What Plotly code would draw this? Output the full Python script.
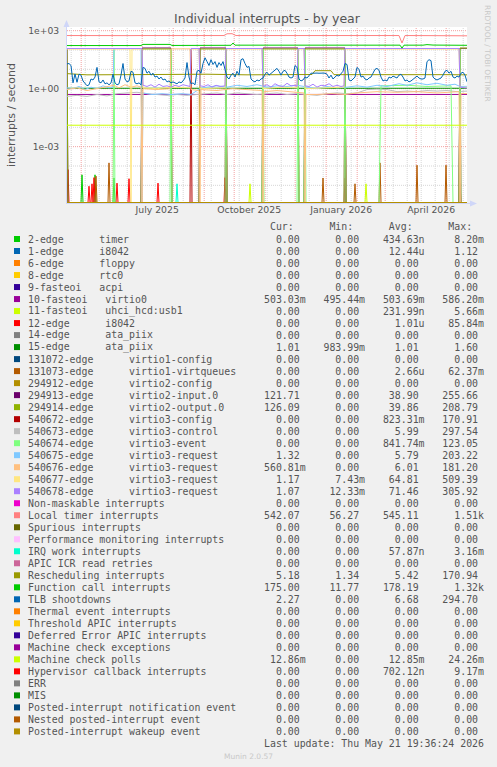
import plotly.graph_objects as go
from datetime import datetime, timedelta

# ---------------- geometry / scale ----------------
W, H = 497, 767
PL, PR, PT, PB = 67, 467, 27, 203
YTOP, YBOT = 3.19, -5.914
END = datetime(2026, 5, 21, 19, 36, 24)
START = END - timedelta(days=400)

# ---------------- legend table data ----------------
labels = [
    "2-edge      timer", "1-edge      i8042", "6-edge      floppy", "8-edge      rtc0",
    "9-fasteoi   acpi", "10-fasteoi   virtio0", "11-fasteoi   uhci_hcd:usb1",
    "12-edge      i8042", "14-edge      ata_piix", "15-edge      ata_piix",
    "131072-edge      virtio1-config", "131073-edge      virtio1-virtqueues",
    "294912-edge      virtio2-config", "294913-edge      virtio2-input.0",
    "294914-edge      virtio2-output.0", "540672-edge      virtio3-config",
    "540673-edge      virtio3-control", "540674-edge      virtio3-event",
    "540675-edge      virtio3-request", "540676-edge      virtio3-request",
    "540677-edge      virtio3-request", "540678-edge      virtio3-request",
    "Non-maskable interrupts", "Local timer interrupts", "Spurious interrupts",
    "Performance monitoring interrupts", "IRQ work interrupts", "APIC ICR read retries",
    "Rescheduling interrupts", "Function call interrupts", "TLB shootdowns",
    "Thermal event interrupts", "Threshold APIC interrupts", "Deferred Error APIC interrupts",
    "Machine check exceptions", "Machine check polls", "Hypervisor callback interrupts",
    "ERR", "MIS", "Posted-interrupt notification event", "Nested posted-interrupt event",
    "Posted-interrupt wakeup event",
]
colors = [
    "#00CC00", "#0066B3", "#FF8000", "#FFCC00", "#330099", "#990099", "#CCFF00", "#FF0000",
    "#808080", "#008F00", "#00487D", "#B35A00", "#B38F00", "#6B006B", "#8FB300", "#B30000",
    "#BEBEBE", "#80FF80", "#80C9FF", "#FFC080", "#FFE680", "#AA80FF", "#EE00CC", "#FF8080",
    "#666600", "#FFBFFF", "#00FFCC", "#CC6699", "#999900", "#00CC00", "#0066B3", "#FF8000",
    "#FFCC00", "#330099", "#990099", "#CCFF00", "#FF0000", "#808080", "#008F00", "#00487D",
    "#B35A00", "#B38F00",
]
cur = ["0.00", "0.00", "0.00", "0.00", "0.00", "503.03m", "0.00", "0.00", "0.00", "1.01",
       "0.00", "0.00", "0.00", "121.71", "126.09", "0.00", "0.00", "0.00", "1.32", "560.81m",
       "1.17", "1.07", "0.00", "542.07", "0.00", "0.00", "0.00", "0.00", "5.18", "175.00",
       "2.27", "0.00", "0.00", "0.00", "0.00", "12.86m", "0.00", "0.00", "0.00", "0.00",
       "0.00", "0.00"]
mins = ["0.00", "0.00", "0.00", "0.00", "0.00", "495.44m", "0.00", "0.00", "0.00", "983.99m",
        "0.00", "0.00", "0.00", "0.00", "0.00", "0.00", "0.00", "0.00", "0.00", "0.00",
        "7.43m", "12.33m", "0.00", "56.27", "0.00", "0.00", "0.00", "0.00", "1.34", "11.77",
        "0.00", "0.00", "0.00", "0.00", "0.00", "0.00", "0.00", "0.00", "0.00", "0.00",
        "0.00", "0.00"]
avgs = ["434.63n", "12.44u", "0.00", "0.00", "0.00", "503.69m", "231.99n", "1.01u", "0.00", "1.01",
        "0.00", "2.66u", "0.00", "38.90", "39.86", "823.31m", "5.99", "841.74m", "5.79", "6.01",
        "64.81", "71.46", "0.00", "545.11", "0.00", "0.00", "57.87n", "0.00", "5.42", "178.19",
        "6.68", "0.00", "0.00", "0.00", "0.00", "12.85m", "702.12n", "0.00", "0.00", "0.00",
        "0.00", "0.00"]
maxs = ["8.20m", "1.12", "0.00", "0.00", "0.00", "586.20m", "5.66m", "85.84m", "0.00", "1.60",
        "0.00", "62.37m", "0.00", "255.66", "208.79", "170.91", "297.54", "123.05", "203.22", "181.20",
        "509.39", "305.92", "0.00", "1.51k", "0.00", "0.00", "3.16m", "0.00", "170.94", "1.32k",
        "294.70", "0.00", "0.00", "0.00", "0.00", "24.26m", "9.17m", "0.00", "0.00", "0.00",
        "0.00", "0.00"]

# ---------------- series data (day offset from graph start, value) ----------------
# Local timer interrupts
loc_days = [0, 14, 17, 60, 75, 100, 157, 160, 165, 169, 200, 250, 300, 332, 335, 338, 360, 400]
loc_vals = [560, 570, 550, 555, 560, 555, 560, 690, 700, 560, 555, 560, 555, 560, 230, 560, 555, 542]
# Function call interrupts
fc_days = [0, 74, 76, 103, 105, 150, 164, 166, 168, 200, 250, 300, 333, 335, 337, 356, 360, 366, 400]
fc_vals = [170, 170, 195, 195, 172, 175, 175, 230, 178, 178, 180, 178, 178, 125, 178, 178, 190, 180, 175]
# TLB shootdowns (read every 2 days)
tlb_vals = [
    19.1, 20.0, 15.8, 2.0, 5.75, 2.14, 5.62, 5.01, 2.51, 1.78,
    1.41, 1.58, 3.16, 2.82, 3.98, 12.6, 2.24, 2.0, 2.82, 1.78,
    2.0, 1.58, 2.0, 5.62, 2.0, 1.58, 1.78, 5.01, 20.0, 3.16,
    2.24, 2.51, 7.94, 7.08, 2.0, 1.78, 2.0, 1.58, 12.6, 11.2,
    6.31, 7.94, 5.01, 6.31, 3.98, 4.47, 3.16, 3.98, 2.82, 3.16,
    2.24, 2.51, 2.0, 2.24, 2.0, 1.78, 2.24, 2.0, 2.51, 3.55,
    22.4, 3.98, 1.78, 2.0, 1.58, 7.94, 8.91, 6.31, 20.0, 39.8,
    25.1, 15.8, 31.6, 17.8, 25.1, 12.6, 22.4, 15.8, 25.1, 10.0,
    3.98, 3.16, 5.01, 6.31, 3.98, 7.94, 5.01, 31.6, 35.5, 20.0,
    12.6, 14.1, 3.16, 2.51, 2.24, 2.82, 2.51, 3.16, 3.55, 5.62,
    7.08, 5.01, 6.31, 7.94, 10.0, 11.2, 7.94, 5.01, 7.94, 8.91,
    6.31, 3.98, 3.55, 3.98, 15.8, 12.6, 3.16, 2.51, 2.82, 3.98,
    3.55, 5.01, 6.31, 6.31, 6.5, 6.4, 6.3, 6.5, 6.4, 6.3,
    5.62, 3.55, 5.01, 3.16, 3.98, 5.01, 4.47, 5.62, 7.94, 20.0,
    17.8, 2.82, 2.51, 3.16, 3.98, 12.6, 10.0, 3.98, 4.47, 3.16,
    2.82, 3.55, 3.98, 6.31, 10.0, 11.2, 8.91, 3.98, 2.51, 2.82,
    2.51, 3.98, 3.55, 4.47, 3.98, 3.55, 5.01, 5.62, 3.98, 2.51,
    2.82, 2.24, 2.51, 3.16, 3.98, 4.47, 3.55, 3.16, 3.16, 3.55,
    25.1, 31.6, 28.2, 3.98, 3.16, 2.82, 3.16, 3.55, 5.01, 7.94,
    8.91, 6.31, 7.94, 3.98, 3.55, 4.47, 3.98, 6.31, 7.08, 5.01,
    2.27]
# Rescheduling interrupts
res_days = [0, 20, 60, 100, 140, 180, 220, 245, 248, 264, 267, 300, 340, 380, 400]
res_vals = [6.0, 5.2, 5.3, 5.4, 5.6, 5.2, 5.3, 5.4, 8.5, 8.5, 5.3, 5.4, 5.5, 5.3, 5.18]
# 10-fasteoi virtio0, 15-edge ata_piix, Machine check polls
v0_days, v0_vals = [0, 400], [0.503, 0.503]
ata_days, ata_vals = [0, 400], [1.05, 1.05]
mcp_days, mcp_vals = [0, 400], [0.01285, 0.01285]
# 294913 / 294914 (virtio2 queues)
in0_days = [0, 1, 74, 75, 104, 105, 132, 133, 159, 160, 195, 196, 231, 232, 237, 238, 278, 279, 392, 393, 400]
in0_vals = [127, 0, 0, 127, 127, 0, 0, 127, 127, 0, 0, 127, 127, 0, 0, 127, 127, 0, 0, 122, 122]
out0_vals = [113, 0, 0, 113, 113, 0, 0, 113, 113, 0, 0, 113, 113, 0, 0, 113, 113, 0, 0, 126, 126]
# 540672 virtio3-config
cfg_days = [0, 123, 124, 125, 158, 159, 160, 277, 278, 279, 392, 393, 394, 400]
cfg_vals = [0, 0, 110, 0, 0, 110, 0, 0, 110, 0, 0, 110, 0, 0]
# 540673 virtio3-control
ctl_days = [0, 10, 20, 30, 40, 50, 60, 70, 80, 90, 100, 110, 120, 130, 140, 150, 160, 170, 180,
            190, 200, 210, 220, 230, 240, 250, 260, 270, 280, 290, 300, 310, 320, 330, 340, 350,
            360, 370, 380, 390, 400]
ctl_vals = [0.4, 0.45, 0.4, 0.5, 0.42, 0.55, 0.6, 0.65, 0.55, 0.5, 0.45, 0.5, 0.45, 0.5, 0.55,
            0.6, 0.5, 0.6, 0.55, 0.5, 0.55, 0.6, 0.5, 0.55, 0.5, 0.45, 0.55, 0.6, 0.55, 0.6, 0.9,
            0.95, 0.9, 0.7, 0.75, 0.7, 0.8, 0.75, 0.8, 0.7, 0.75]
# 540674 virtio3-event
evt_days = [0, 46, 47, 48, 103, 104, 105, 158, 159, 160, 195, 196, 197, 230, 231, 232, 237, 238,
            239, 277, 278, 279, 312, 314, 340, 360, 384, 386, 392, 393, 394, 400]
evt_vals = [0, 0, 110, 0, 0, 110, 0, 0, 110, 0, 0, 110, 0, 0, 110, 0, 0, 110, 0, 0, 110, 0,
            0, 1.4, 1.5, 1.3, 1.4, 0, 0, 110, 0, 0]
# 540675 virtio3-request
rq5_days = [0, 6, 12, 18, 24, 30, 36, 42, 46, 47, 74, 75, 76, 85, 95, 104, 115, 124, 133, 140,
            150, 160, 170, 180, 190, 200, 210, 220, 230, 240, 250, 260, 270, 280, 290, 300, 310,
            320, 332, 340, 350, 360, 370, 380, 388, 393, 400]
rq5_vals = [1.1, 1.0, 1.3, 0.9, 1.2, 1.0, 1.4, 1.1, 1.2, 118, 118, 0, 0.6, 0.5, 0.55, 0.5,
            0.55, 0.5, 1.0, 1.2, 1.4, 1.2, 1.5, 1.3, 1.6, 1.2, 1.4, 1.3, 1.5, 1.2, 1.0, 1.3, 1.1,
            1.2, 1.4, 1.2, 1.5, 1.3, 1.8, 1.5, 2.0, 1.6, 1.9, 1.5, 1.7, 1.3, 1.32]
# 540676 virtio3-request
rq6_days = [0, 10, 20, 30, 40, 47, 52, 58, 64, 70, 74, 75, 76, 90, 103, 104, 123, 124, 132, 133,
            134, 150, 165, 180, 195, 196, 197, 210, 225, 237, 238, 239, 250, 265, 278, 290, 310,
            330, 350, 370, 392, 393, 394, 400]
rq6_vals = [0.9, 1.1, 0.8, 1.0, 1.2, 1.5, 1.1, 1.6, 1.2, 1.4, 1.2, 0, 1.0, 0.9, 1.0, 115, 115,
            0.9, 0.8, 0, 0.9, 0.8, 1.0, 0.9, 0.8, 0, 0.7, 0.8, 0.7, 0.6, 0, 0.5, 0.5, 0.55, 0.5,
            0.6, 0.7, 0.65, 0.7, 0.6, 0.7, 0, 0.56, 0.56]
# 540677 virtio3-request
rq7_days = [0, 63, 64, 65, 75, 76, 90, 104, 123, 124, 132, 133, 158, 159, 195, 196, 215, 230, 231,
            237, 238, 260, 277, 278, 392, 393, 400]
rq7_vals = [112, 112, 0, 112, 112, 1.1, 1.0, 1.2, 1.1, 112, 112, 1.0, 1.1, 112, 112, 1.0, 1.2,
            1.1, 112, 112, 1.0, 1.1, 1.2, 112, 112, 1.17, 1.17]
# 540678 virtio3-request
rq8_days = [0, 75, 76, 80, 84, 88, 92, 96, 100, 104, 108, 112, 116, 120, 123, 124, 132, 133, 137,
            141, 145, 149, 153, 158, 159, 195, 196, 200, 204, 208, 212, 216, 220, 224, 228, 230,
            231, 237, 238, 242, 246, 250, 254, 258, 262, 266, 270, 274, 277, 278, 392, 393, 396, 400]
rq8_vals = [120, 120, 1.5, 1.3, 1.6, 1.2, 1.7, 1.3, 1.4, 1.2, 1.5, 1.3, 1.6, 1.4, 1.3, 120, 120,
            1.4, 1.3, 1.6, 1.2, 1.5, 1.3, 1.4, 120, 120, 1.3, 1.6, 1.2, 1.8, 1.4, 1.3, 1.9, 1.4,
            1.5, 1.3, 120, 120, 1.4, 1.3, 1.7, 1.2, 1.5, 1.4, 1.8, 1.3, 1.5, 1.3, 1.4, 120, 120,
            1.2, 1.1, 1.07]
# rare interrupts: (day, value) of daily spikes
timer_spk_days, timer_spk_vals = [15, 28, 47], [3.5e-5, 3.5e-5, 2.4e-5]
i8042_spk_days = [1, 22, 25, 27, 50, 62, 91, 158, 278, 393]
i8042_spk_vals = [6.5e-5, 9e-6, 1.2e-5, 2.5e-5, 1.3e-5, 2.2e-5, 1.3e-5, 2.5e-5, 2.4e-5, 1.3e-5]
usb_spk_days, usb_spk_vals = [183, 299], [1.2e-5, 1.2e-5]
vq_spk_days = [29, 42, 256, 288, 313, 350, 379]
vq_spk_vals = [3.0e-5, 1.45e-4, 2.4e-5, 1.2e-5, 1.45e-4, 1.1e-4, 1.1e-4]
irqw_spk_days, irqw_spk_vals = [110], [1.2e-5]

# ---------------- helpers ----------------
FLOOR = 10 ** (YBOT + 0.5 / 19.33)   # zero is drawn on the bottom edge (log scale)


def dt(d):
    return START + timedelta(days=d)


def clean(vals):
    return [v if v > 0 else FLOOR for v in vals]


def spikes(days, vals):
    xs, ys = [0], [0]
    for d, v in zip(days, vals):
        xs += [d - 1, d, d + 1]
        ys += [0, v, 0]
    xs.append(400)
    ys.append(0)
    return xs, ys


def pxx(px):
    return (px - PL) / (PR - PL)


def pxy(py):
    return (PB - py) / (PB - PT)


series = {i: ([0, 400], [0, 0]) for i in range(len(labels))}
series[0] = spikes(timer_spk_days, timer_spk_vals)
series[5] = (v0_days, v0_vals)
series[6] = spikes(usb_spk_days, usb_spk_vals)
series[7] = spikes(i8042_spk_days, i8042_spk_vals)
series[9] = (ata_days, ata_vals)
series[11] = spikes(vq_spk_days, vq_spk_vals)
series[13] = (in0_days, in0_vals)
series[14] = (in0_days, out0_vals)
series[15] = (cfg_days, cfg_vals)
series[16] = (ctl_days, ctl_vals)
series[17] = (evt_days, evt_vals)
series[18] = (rq5_days, rq5_vals)
series[19] = (rq6_days, rq6_vals)
series[20] = (rq7_days, rq7_vals)
series[21] = (rq8_days, rq8_vals)
series[23] = (loc_days, loc_vals)
series[26] = spikes(irqw_spk_days, irqw_spk_vals)
series[28] = (res_days, res_vals)
series[29] = (fc_days, fc_vals)
series[30] = (list(range(0, 401, 2)), tlb_vals)
series[35] = (mcp_days, mcp_vals)

fig = go.Figure()
for i in range(len(labels)):
    d, v = series[i]
    fig.add_trace(go.Scatter(
        x=[dt(k) for k in d], y=clean(v), mode="lines",
        line=dict(color=colors[i], width=1), showlegend=False, hoverinfo="skip"))

shapes = []
# horizontal grid (decades)
for e in range(-5, 4):
    major = e in (3, 0, -3)
    yp = (e - YBOT) / (YTOP - YBOT)
    shapes.append(dict(type="line", xref="paper", yref="paper", x0=0, x1=1, y0=yp, y1=yp,
                       line=dict(color="#F2A0A0" if major else "#D6D6D6", width=1, dash="1px,1px"),
                       layer="below"))
# vertical grid: months (major) and two-week lines (minor)
m = datetime(2025, 5, 1)
while m < END:
    shapes.append(dict(type="line", xref="x", yref="paper", x0=m, x1=m, y0=0, y1=1,
                       line=dict(color="#F2A0A0", width=1, dash="1px,1px"), layer="below"))
    m = datetime(m.year + (m.month // 12), m.month % 12 + 1, 1)
wk = datetime(2025, 4, 21)
while wk < END:
    if wk.day not in (1, 2, 30, 31):
        shapes.append(dict(type="line", xref="x", yref="paper", x0=wk, x1=wk, y0=0, y1=1,
                           line=dict(color="#D6D6D6", width=1, dash="1px,1px"), layer="below"))
    wk += timedelta(days=14)
# axes lines and arrows
AX = "#CFD6F8"
shapes.append(dict(type="line", xref="paper", yref="paper", x0=pxx(66.5), x1=pxx(66.5),
                   y0=pxy(203.5), y1=pxy(22), line=dict(color=AX, width=1)))
shapes.append(dict(type="line", xref="paper", yref="paper", x0=pxx(66), x1=pxx(472),
                   y0=pxy(203.5), y1=pxy(203.5), line=dict(color=AX, width=1)))
shapes.append(dict(type="path", xref="paper", yref="paper",
                   path=f"M {pxx(63.5)} {pxy(27)} L {pxx(66.5)} {pxy(20)} L {pxx(69.5)} {pxy(27)} Z",
                   fillcolor=AX, line=dict(color=AX, width=0)))
shapes.append(dict(type="path", xref="paper", yref="paper",
                   path=f"M {pxx(470)} {pxy(200.5)} L {pxx(477)} {pxy(203.5)} L {pxx(470)} {pxy(206.5)} Z",
                   fillcolor=AX, line=dict(color=AX, width=0)))

ann = []
MONO = "DejaVu Sans Mono"
FS = 9.9
TXT = "#555555"


def nb(s):
    return s.replace(" ", "\u00a0")


def fmt(s):
    suf = s[-1] if s[-1].isalpha() else " "
    num = s[:-1] if s[-1].isalpha() else s
    return num.rjust(6) + suf


def row_y(i):
    return 239 + 12.01 * i


ann.append(dict(text=nb(" Cur:      Min:      Avg:      Max:"), x=pxx(261.7), y=pxy(227),
                xref="paper", yref="paper", xanchor="left", yanchor="middle", showarrow=False,
                font=dict(family=MONO, size=FS, color=TXT)))
for i, lab in enumerate(labels):
    y = row_y(i)
    shapes.append(dict(type="rect", xref="paper", yref="paper", x0=pxx(14), x1=pxx(20),
                       y0=pxy(y - 3), y1=pxy(y + 3), fillcolor=colors[i], line=dict(width=0)))
    ann.append(dict(text=nb(lab), x=pxx(26), y=pxy(y), xref="paper", yref="paper",
                    xanchor="left", yanchor="middle", showarrow=False,
                    font=dict(family=MONO, size=FS, color=TXT)))
    vals = "   ".join(fmt(s) for s in (cur[i], mins[i], avgs[i], maxs[i]))
    ann.append(dict(text=nb(vals), x=pxx(261.7), y=pxy(y), xref="paper", yref="paper",
                    xanchor="left", yanchor="middle", showarrow=False,
                    font=dict(family=MONO, size=FS, color=TXT)))
ann.append(dict(text=nb("Last update: Thu May 21 19:36:24 2026"), x=pxx(261.7), y=pxy(row_y(42)),
                xref="paper", yref="paper", xanchor="left", yanchor="middle", showarrow=False,
                font=dict(family=MONO, size=FS, color=TXT)))
ann.append(dict(text="Munin 2.0.57", x=pxx(248.5), y=pxy(756), xref="paper", yref="paper",
                xanchor="center", yanchor="middle", showarrow=False,
                font=dict(family="DejaVu Sans", size=7.5, color="#C8C8C8")))
ann.append(dict(text="RRDTOOL / TOBI OETIKER", x=pxx(488), y=pxy(53), xref="paper", yref="paper",
                xanchor="center", yanchor="middle", textangle=90, showarrow=False,
                font=dict(family="DejaVu Sans", size=7.5, color="#C8C8C8")))
ann.append(dict(text="interrupts / second", x=pxx(11), y=pxy(115), xref="paper", yref="paper",
                xanchor="center", yanchor="middle", textangle=-90, showarrow=False,
                font=dict(family="DejaVu Sans", size=11, color=TXT)))

fig.update_layout(
    width=W, height=H, margin=dict(l=PL, r=W - PR, t=PT, b=H - PB),
    paper_bgcolor="#F0F0F0", plot_bgcolor="#FFFFFF",
    title=dict(text="Individual interrupts - by year", x=0.5, xref="paper", xanchor="center",
               y=1 - 19 / H, yanchor="middle",
               font=dict(family="DejaVu Sans", size=12.5, color=TXT)),
    xaxis=dict(type="date", range=[START, END], showgrid=False, zeroline=False, showline=False,
               tickvals=[datetime(2025, 7, 16), datetime(2025, 10, 16), datetime(2026, 1, 16),
                         datetime(2026, 4, 16)],
               ticktext=["July 2025", "October 2025", "January 2026", "April 2026"],
               ticks="", tickfont=dict(family="DejaVu Sans", size=9.3, color=TXT)),
    yaxis=dict(type="log", range=[YBOT, YTOP], showgrid=False, zeroline=False, showline=False,
               tickvals=[1000, 1, 0.001], ticktext=["1e+03", "1e+00", "1e-03"],
               ticks="outside", ticklen=5, tickcolor="rgba(0,0,0,0)",
               tickfont=dict(family="DejaVu Sans", size=9.2, color=TXT)),
    shapes=shapes, annotations=ann,
)
fig.write_html("out.html", config={"displayModeBar": False, "staticPlot": True},
               post_script="document.body.style.margin='0px';"
                           "document.body.style.overflow='hidden';")
